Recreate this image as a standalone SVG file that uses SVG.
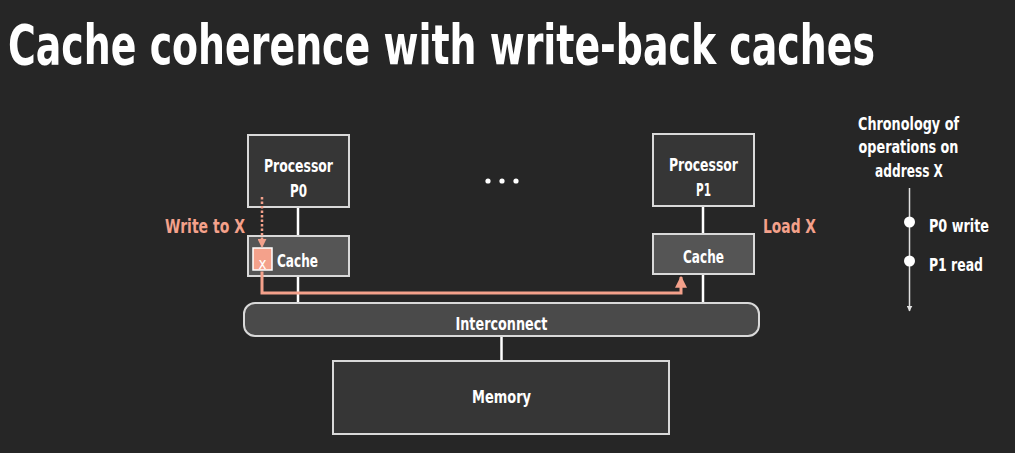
<svg xmlns="http://www.w3.org/2000/svg" width="1015" height="453" viewBox="0 0 1015 453">
  <defs>
    <style>
      text { font-family: "DejaVu Sans Condensed", "Liberation Sans Narrow", "Liberation Sans", sans-serif; font-weight: bold; fill: #ffffff; }
      .lbl { font-size: 18px; text-anchor: middle; }
      .hl { fill: #f4a18b; font-size: 19px; }
      .box { fill: #363636; stroke: #d9d9d9; stroke-width: 2; }
      .cache { fill: #555555; stroke: #d9d9d9; stroke-width: 2; }
      .wire { stroke: #ffffff; stroke-width: 2.5; fill: none; }
    </style>
    <marker id="ahSalmon" viewBox="0 0 10 10" refX="9" refY="5" markerWidth="4" markerHeight="4" orient="auto">
      <path d="M0,0 L10,5 L0,10 z" fill="#f4a18b"/>
    </marker>
    <marker id="ahSalmonDot" viewBox="0 0 10 10" refX="9" refY="5" markerWidth="3.6" markerHeight="3.6" orient="auto">
      <path d="M0,0 L10,5 L0,10 z" fill="#f4a18b"/>
    </marker>
    <marker id="ahWhite" viewBox="0 0 10 10" refX="9" refY="5" markerWidth="4" markerHeight="4" orient="auto">
      <path d="M0,0 L10,5 L0,10 z" fill="#e0e0e0"/>
    </marker>
  </defs>

  <rect width="1015" height="453" fill="#262626"/>

  <!-- title: narrow face stretched vertically -->
  <text transform="scale(1,1.45)" x="8" y="44.1" font-size="38" textLength="867" lengthAdjust="spacingAndGlyphs">Cache coherence with write-back caches</text>

  <g id="proc0">
    <rect class="box" x="248" y="135" width="101" height="72"/>
    <text class="lbl" x="298.5" y="172" textLength="69" lengthAdjust="spacingAndGlyphs">Processor</text>
    <text class="lbl" x="298.5" y="197" textLength="17" lengthAdjust="spacingAndGlyphs">P0</text>
  </g>

  <g id="cache0">
    <rect class="cache" x="248" y="236" width="101" height="40"/>
    <rect x="253" y="248" width="19" height="22" fill="#f4a18b" stroke="#ffffff" stroke-width="1.5"/>
    <text x="262.5" y="269" font-size="15" text-anchor="middle" style="font-weight:normal">x</text>
    <text x="277" y="267" font-size="18" textLength="41" lengthAdjust="spacingAndGlyphs">Cache</text>
  </g>

  <g id="proc1">
    <rect class="box" x="653" y="134" width="101" height="72"/>
    <text class="lbl" x="703.5" y="171" textLength="69" lengthAdjust="spacingAndGlyphs">Processor</text>
    <text class="lbl" x="703.5" y="196" textLength="15" lengthAdjust="spacingAndGlyphs">P1</text>
  </g>

  <g id="cache1">
    <rect class="cache" x="653" y="234" width="101" height="40"/>
    <text class="lbl" x="703.5" y="263" textLength="41" lengthAdjust="spacingAndGlyphs">Cache</text>
  </g>

  <g id="interconnect">
    <rect x="244" y="303" width="515" height="33" rx="11" fill="#4a4a4a" stroke="#d9d9d9" stroke-width="2"/>
    <text class="lbl" x="501.5" y="330" textLength="92" lengthAdjust="spacingAndGlyphs">Interconnect</text>
  </g>

  <g id="memory">
    <rect class="box" x="333" y="361" width="336" height="73"/>
    <text class="lbl" x="501.5" y="403" textLength="59" lengthAdjust="spacingAndGlyphs">Memory</text>
  </g>

  <!-- connectors, drawn over the boxes -->
  <g id="connectors">
    <line class="wire" x1="298" y1="208" x2="298" y2="235"/>
    <line class="wire" x1="298" y1="277" x2="298" y2="302"/>
    <line class="wire" x1="703" y1="207" x2="703" y2="233"/>
    <line class="wire" x1="703" y1="275" x2="703" y2="302"/>
    <line class="wire" x1="501.5" y1="337" x2="501.5" y2="360"/>
    <line x1="262" y1="197" x2="262" y2="247" stroke="#f4a18b" stroke-width="2.5" stroke-dasharray="2.5 2" marker-end="url(#ahSalmonDot)"/>
    <path d="M262,271.5 V293 H681 V277" fill="none" stroke="#f4a18b" stroke-width="3" marker-end="url(#ahSalmon)"/>
  </g>

  <g id="ellipsis" fill="#ffffff">
    <circle cx="488" cy="181" r="2.6"/>
    <circle cx="502" cy="181" r="2.6"/>
    <circle cx="516" cy="181" r="2.6"/>
  </g>

  <text class="hl" x="165" y="233" textLength="80" lengthAdjust="spacingAndGlyphs">Write to X</text>
  <text class="hl" x="763" y="233" textLength="53" lengthAdjust="spacingAndGlyphs">Load X</text>

  <g id="timeline">
    <text class="lbl" x="908.5" y="130" textLength="101" lengthAdjust="spacingAndGlyphs">Chronology of</text>
    <text class="lbl" x="908.5" y="153" textLength="100" lengthAdjust="spacingAndGlyphs">operations on</text>
    <text class="lbl" x="909" y="177" textLength="68" lengthAdjust="spacingAndGlyphs">address X</text>
    <line x1="909.5" y1="188" x2="909.5" y2="311" stroke="#e0e0e0" stroke-width="1.5" marker-end="url(#ahWhite)"/>
    <circle cx="909.5" cy="222" r="5.5" fill="#ffffff"/>
    <circle cx="909.5" cy="261" r="5.5" fill="#ffffff"/>
    <text x="929" y="232" font-size="18" textLength="60" lengthAdjust="spacingAndGlyphs">P0 write</text>
    <text x="929" y="271" font-size="18" textLength="54" lengthAdjust="spacingAndGlyphs">P1 read</text>
  </g>
</svg>
